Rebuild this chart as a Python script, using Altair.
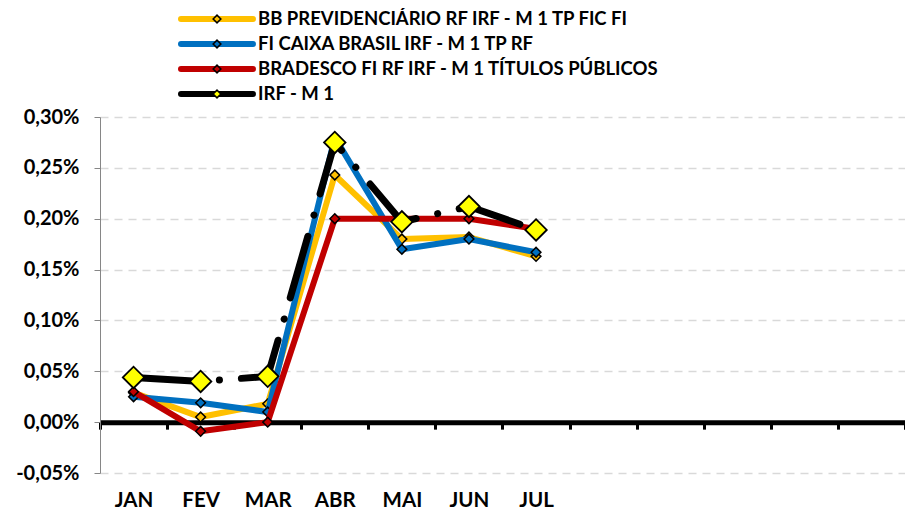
import altair as alt
import pandas as pd

# ---- data ----
months = ["JAN", "FEV", "MAR", "ABR", "MAI", "JUN", "JUL", "AGO", "SET", "OUT", "NOV", "DEZ"]
shown_months = ["JAN", "FEV", "MAR", "ABR", "MAI", "JUN", "JUL"]

series_names = [
    "BB PREVIDENCIÁRIO RF IRF - M 1 TP FIC FI",
    "FI CAIXA BRASIL IRF - M 1 TP RF",
    "BRADESCO FI RF IRF - M 1 TÍTULOS PÚBLICOS",
    "IRF - M 1",
]
bb_values = [0.029, 0.005, 0.018, 0.243, 0.180, 0.182, 0.163]
caixa_values = [0.025, 0.019, 0.010, 0.280, 0.170, 0.180, 0.167]
bradesco_values = [0.030, -0.009, 0.000, 0.200, 0.200, 0.200, 0.190]
irf_values = [0.044, 0.040, 0.045, 0.275, 0.197, 0.212, 0.189]

y_ticks = [-0.05, 0.0, 0.05, 0.10, 0.15, 0.20, 0.25, 0.30]

# ---- styles ----
line_colors = ["#FFC000", "#0070C0", "#C00000", "#000000"]
marker_fills = ["#FFC000", "#0070C0", "#C00000", "#FFFF00"]
FONT = "Lato"
W, H = 805, 356
Y_MIN, Y_MAX = -0.05, 0.30

rows = []
for name, vals in zip(series_names, [bb_values, caixa_values, bradesco_values, irf_values]):
    for m, v in zip(shown_months, vals):
        rows.append({"month": m, "series": name, "value": v})
df = pd.DataFrame(rows)

zero_offset = -H * (0 - Y_MIN) / (Y_MAX - Y_MIN)

shown_js = "[" + ",".join("'" + m + "'" for m in shown_months) + "]"

x_axis = alt.Axis(
    orient="bottom", offset=zero_offset, title=None, grid=False, labelAngle=0,
    domainColor="black", domainWidth=5,
    tickColor="black", tickWidth=3, tickSize=7, tickBand="extent",
    labelPadding=77, labelBaseline="alphabetic",
    labelFont=FONT, labelFontSize=20.5, labelFontWeight="bold", labelColor="black",
    labelExpr=f"indexof({shown_js}, datum.value) >= 0 ? datum.value : ''",
)
y_axis = alt.Axis(
    values=y_ticks, title=None, grid=True,
    gridDash=[8, 6], gridColor="#D9D9D9", gridWidth=1.5,
    domainColor="#868686", domainWidth=1, tickColor="#868686", tickSize=6,
    labelPadding=15, labelFont=FONT, labelFontSize=20, labelFontWeight="bold", labelColor="black",
    labelExpr="replace(replace(format(datum.value, '.2f'), '.', ','), '\u2212', '-') + '%'",
)

x_scale = alt.Scale(type="band", domain=months, paddingInner=0, paddingOuter=0)
y_scale = alt.Scale(domain=[Y_MIN, Y_MAX], nice=False, zero=False)
xe = alt.X("month:N", scale=x_scale, bandPosition=0.5, axis=x_axis)
ye = alt.Y("value:Q", scale=y_scale, axis=y_axis)

main_layers = []
for i, name in enumerate(series_names):
    base = alt.Chart(df).transform_filter(alt.datum.series == name)
    if name == "IRF - M 1":
        line = base.mark_line(color="black", strokeWidth=7, strokeDash=[64, 22, 0.1, 22],
                              strokeCap="round", strokeJoin="round")
        pts = base.mark_point(shape="diamond", filled=True, size=460, fill=marker_fills[i],
                              stroke="black", strokeWidth=1.8, opacity=1)
    else:
        line = base.mark_line(color=line_colors[i], strokeWidth=6, strokeCap="round", strokeJoin="round")
        pts = base.mark_point(shape="diamond", filled=True, size=95, fill=marker_fills[i],
                              stroke="black", strokeWidth=1.5, opacity=1)
    main_layers.append(line.encode(x=xe, y=ye))
    main_layers.append(pts.encode(x=xe, y=ye))

main = alt.layer(*main_layers)

# ---- legend drawn as marks above the plot ----
leg_df = pd.DataFrame({"series": series_names, "row": list(range(len(series_names)))})
leg_y = alt.Y("row:Q", scale=alt.Scale(domain=[0, 3], range=[-98, -23]), axis=None)
leg_base = alt.Chart(leg_df)
leg_line = leg_base.mark_rule(strokeWidth=6, strokeCap="round").encode(
    x=alt.value(81), x2=alt.value(153), y=leg_y,
    color=alt.Color("series:N", scale=alt.Scale(domain=series_names, range=line_colors), legend=None),
)
leg_pt = leg_base.mark_point(shape="diamond", filled=True, size=60, stroke="black",
                             strokeWidth=1.5, opacity=1).encode(
    x=alt.value(117), y=leg_y,
    fill=alt.Fill("series:N", scale=alt.Scale(domain=series_names, range=marker_fills), legend=None),
)
leg_text = leg_base.mark_text(align="left", baseline="middle", font=FONT, fontSize=18.5,
                              fontWeight="bold", color="black").encode(
    x=alt.value(158), y=leg_y, text="series:N",
)
legend = alt.layer(leg_line, leg_pt, leg_text)

chart = alt.layer(main, legend).resolve_scale(y="independent").properties(
    width=W, height=H,
    autosize=alt.AutoSizeParams(type="none"),
    padding={"left": 92, "top": 109, "right": 0, "bottom": 38},
    background="white",
).configure_view(stroke=None)

chart.save("out.html", embed_options={"renderer": "svg", "actions": False})
